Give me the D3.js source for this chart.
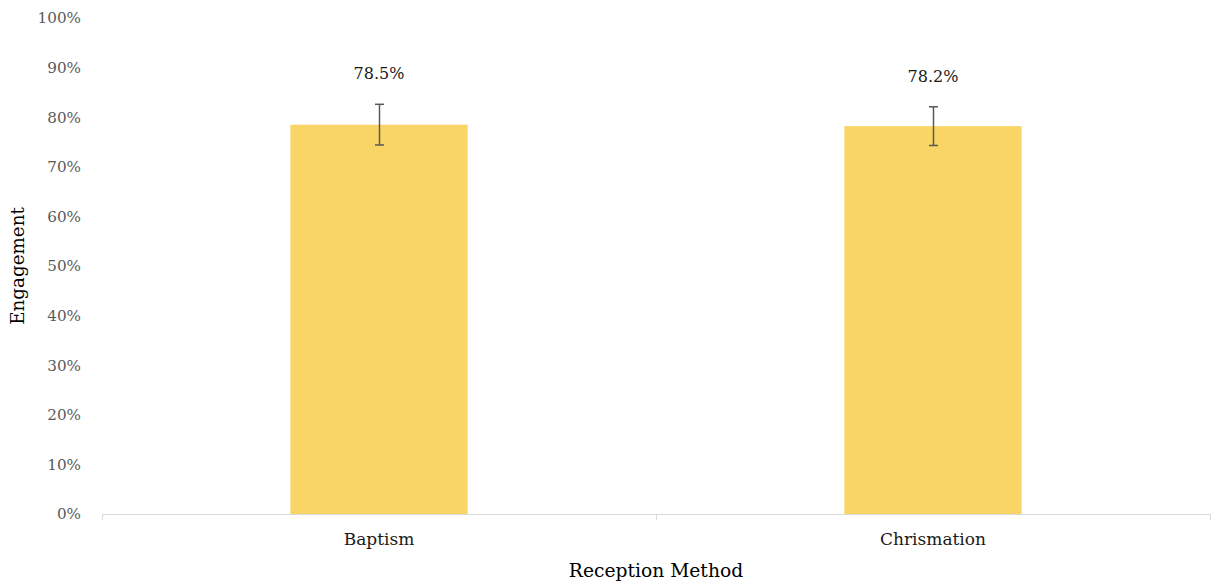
<!DOCTYPE html>
<html>
<head>
<meta charset="utf-8">
<script src="https://cdn.jsdelivr.net/npm/d3@7"></script>
<style>
  html, body { margin: 0; padding: 0; background: #fff; }
  svg { display: block; font-family: "DejaVu Serif", "Liberation Serif", serif; }
</style>
</head>
<body>
<svg id="chart" width="1214" height="586"></svg>
<script>
const categories = ["Baptism", "Chrismation"];
const values = [78.5, 78.2];
const errors = [4.1, 3.9];
const yTicks = [0, 10, 20, 30, 40, 50, 60, 70, 80, 90, 100];
const xTitle = "Reception Method";
const yTitle = "Engagement";

(function () {
const svg = d3.select("#chart");
const mLeft = 102, mRight = 1210, mTop = 18, mBottom = 514;

const x = d3.scaleBand().domain(categories).range([mLeft, mRight]).paddingInner(0.68).paddingOuter(0.34);
const y = d3.scaleLinear().domain([0, 100]).range([mBottom, mTop]);

// y tick labels
svg.append("g").selectAll("text").data(yTicks).join("text")
  .attr("x", 81).attr("y", d => y(d)).attr("dy", "0.35em")
  .attr("text-anchor", "end").attr("font-size", 15.2).attr("fill", "#595959")
  .text(d => d + "%");

// bars
svg.append("g").selectAll("rect").data(categories).join("rect")
  .attr("x", d => x(d)).attr("width", x.bandwidth())
  .attr("y", (d, i) => y(values[i])).attr("height", (d, i) => y(0) - y(values[i]))
  .attr("fill", "#F9D566");

// x axis line and ticks
const xa = svg.append("g");
xa.append("line").attr("x1", mLeft).attr("x2", mRight).attr("y1", mBottom + 0.5).attr("y2", mBottom + 0.5)
  .attr("stroke", "#d9d9d9").attr("stroke-width", 1);
const bounds = [mLeft, (mLeft + mRight) / 2, mRight];
xa.selectAll("line.t").data(bounds).join("line").attr("class", "t")
  .attr("x1", d => Math.round(d) + 0.5).attr("x2", d => Math.round(d) + 0.5)
  .attr("y1", mBottom).attr("y2", mBottom + 6)
  .attr("stroke", "#d9d9d9").attr("stroke-width", 1);

// category labels
svg.append("g").selectAll("text").data(categories).join("text")
  .attr("x", d => x(d) + x.bandwidth() / 2).attr("y", 545)
  .attr("text-anchor", "middle").attr("font-size", 17).attr("fill", "#1a1a1a")
  .text(d => d);

// error bars
const eb = svg.append("g").attr("stroke", "#595959").attr("stroke-width", 1.5).attr("fill", "none");
categories.forEach((c, i) => {
  const cx = Math.round(x(c) + x.bandwidth() / 2) + 0.5;
  const y1 = y(values[i] + errors[i]), y2 = y(values[i] - errors[i]);
  eb.append("line").attr("x1", cx).attr("x2", cx).attr("y1", y1).attr("y2", y2);
  eb.append("line").attr("x1", cx - 4.5).attr("x2", cx + 4.5).attr("y1", y1).attr("y2", y1);
  eb.append("line").attr("x1", cx - 4.5).attr("x2", cx + 4.5).attr("y1", y2).attr("y2", y2);
});

// data labels
svg.append("g").selectAll("text").data(categories).join("text")
  .attr("x", d => x(d) + x.bandwidth() / 2)
  .attr("y", (d, i) => y(values[i] + errors[i]) - 25)
  .attr("text-anchor", "middle").attr("font-size", 16).attr("fill", "#1a1a1a")
  .text((d, i) => values[i].toFixed(1) + "%");

// axis titles
svg.append("text").attr("x", (mLeft + mRight) / 2).attr("y", 577)
  .attr("text-anchor", "middle").attr("font-size", 18.7).attr("fill", "#000")
  .text(xTitle);
svg.append("text").attr("transform", "translate(24,266) rotate(-90)")
  .attr("text-anchor", "middle").attr("font-size", 18.3).attr("fill", "#000")
  .text(yTitle);
})();
</script>
</body>
</html>
